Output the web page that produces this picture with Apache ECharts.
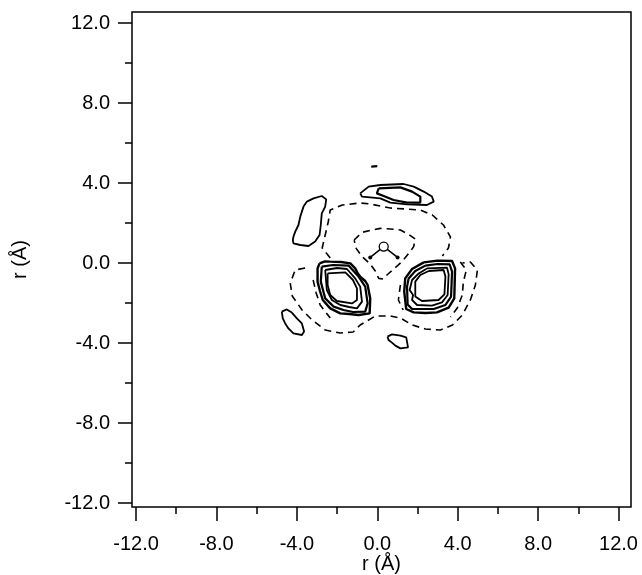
<!DOCTYPE html>
<html>
<head>
<meta charset="utf-8">
<script src="https://cdn.jsdelivr.net/npm/echarts@6/dist/echarts.min.js"></script>
<style>
html,body{margin:0;padding:0;background:#fff;}
#chart{width:642px;height:575px;}
</style>
</head>
<body>
<div id="chart"></div>
<script>
// ---- axis ticks ----
const majorTicks = [-12, -8, -4, 0, 4, 8, 12];
const minorTicks = [-10, -6, -2, 2, 6, 10];
const axisTitle = 'r (Å)';

// ---- solid contours (data units, Å) ----
const ringL1 = [[-2.87,-0.02],[-2.60,0.08],[-2.34,0.07],[-1.80,0.05],[-1.34,-0.02],[-1.10,-0.27],[-0.95,-0.55],[-0.85,-0.68],[-0.60,-0.90],[-0.48,-1.10],[-0.35,-1.77],[-0.38,-2.52],[-0.93,-2.60],[-1.40,-2.55],[-1.84,-2.52],[-2.34,-2.27],[-2.71,-1.85],[-2.85,-1.40],[-2.97,-0.93],[-2.97,-0.27],[-2.87,-0.02]];
const ringL2 = [[-2.76,-0.18],[-2.20,-0.10],[-1.43,-0.13],[-0.93,-0.68],[-0.60,-1.18],[-0.48,-2.02],[-0.60,-2.43],[-1.20,-2.45],[-1.68,-2.35],[-2.17,-2.18],[-2.59,-1.77],[-2.81,-0.93],[-2.76,-0.18]];
const ringL3 = [[-2.59,-0.35],[-2.00,-0.25],[-1.51,-0.30],[-1.10,-0.77],[-0.85,-1.18],[-0.76,-1.93],[-1.01,-2.27],[-1.40,-2.20],[-1.84,-2.10],[-2.26,-1.85],[-2.51,-1.35],[-2.59,-0.35]];
const ringL4 = [[-2.47,-0.52],[-1.59,-0.47],[-1.21,-0.85],[-1.01,-1.27],[-1.01,-1.85],[-1.26,-2.02],[-2.01,-1.90],[-2.34,-1.60],[-2.47,-1.10],[-2.47,-0.52]];
const ringR1 = [[2.31,0.03],[3.00,0.12],[3.72,0.10],[3.87,-0.27],[3.85,-1.00],[3.83,-1.77],[3.55,-2.23],[2.97,-2.47],[2.40,-2.50],[1.81,-2.47],[1.44,-2.30],[1.34,-1.43],[1.39,-0.77],[1.73,-0.30],[2.31,0.03]];
const ringR2 = [[2.39,-0.13],[3.00,-0.05],[3.60,-0.07],[3.72,-0.43],[3.67,-1.68],[3.39,-2.10],[2.81,-2.30],[1.73,-2.30],[1.51,-2.07],[1.48,-1.18],[1.56,-0.77],[1.89,-0.40],[2.39,-0.13]];
const ringR3 = [[2.47,-0.27],[3.47,-0.23],[3.55,-0.57],[3.50,-1.60],[3.22,-1.97],[2.72,-2.13],[1.98,-2.10],[1.73,-1.85],[1.78,-1.60],[1.61,-1.35],[1.73,-0.85],[2.06,-0.52],[2.47,-0.27]];
const ringR4 = [[2.56,-0.40],[3.30,-0.35],[3.39,-0.68],[3.34,-1.57],[3.05,-1.85],[2.22,-1.90],[1.89,-1.68],[1.89,-0.93],[2.14,-0.60],[2.56,-0.40]];
const topOuter = [[-0.85,3.48],[-0.43,3.82],[0.15,3.90],[1.31,3.95],[1.81,3.82],[2.31,3.57],[2.72,3.32],[2.81,3.07],[2.47,2.90],[1.48,2.93],[0.65,3.02],[0.15,3.23],[-0.35,3.28],[-0.76,3.32],[-0.85,3.48]];
const topInner = [[0.07,3.73],[1.15,3.78],[1.73,3.57],[2.14,3.32],[2.14,3.02],[1.48,3.02],[0.81,3.15],[0.32,3.35],[-0.02,3.48],[0.07,3.73]];
const topMark = [[-0.30,4.82],[0.00,4.84]];
const leftBlob = [[-4.17,1.32],[-4.08,1.57],[-3.92,1.90],[-3.83,2.32],[-3.67,2.82],[-3.50,3.07],[-3.17,3.23],[-2.76,3.35],[-2.54,3.18],[-2.59,2.82],[-2.76,2.48],[-2.81,1.90],[-2.87,1.40],[-3.09,1.07],[-3.42,0.85],[-3.83,0.90],[-4.17,0.98],[-4.20,1.15],[-4.17,1.32]];
const lowLeftBlob = [[-4.75,-2.43],[-4.50,-2.32],[-4.25,-2.48],[-4.00,-2.77],[-3.75,-3.02],[-3.64,-3.43],[-3.75,-3.60],[-4.17,-3.52],[-4.42,-3.27],[-4.58,-3.02],[-4.70,-2.77],[-4.75,-2.43]];
const bottomBlob = [[0.51,-3.68],[0.73,-3.57],[1.15,-3.63],[1.44,-3.72],[1.53,-4.22],[1.15,-4.27],[0.90,-4.13],[0.73,-3.98],[0.56,-3.85],[0.51,-3.68]];

// ---- dashed contours ----
const dashInner = [[-1.15,1.15],[-0.76,1.53],[-0.27,1.65],[0.15,1.73],[0.65,1.70],[1.15,1.65],[1.56,1.43],[1.89,1.20],[1.81,0.82],[1.64,0.57],[1.23,0.07],[0.90,-0.23],[0.48,-0.60],[0.32,-0.80],[0.07,-0.77],[-0.10,-0.40],[-0.38,-0.02],[-0.76,0.32],[-1.05,0.73],[-1.15,1.15]];
const dashMiddle = [[-2.34,0.25],[-2.74,0.75],[-2.59,1.40],[-2.44,2.05],[-2.34,2.65],[-1.74,2.90],[-0.85,3.00],[-0.35,2.95],[0.65,2.75],[1.39,2.70],[2.14,2.65],[2.74,2.40],[3.29,1.90],[3.64,1.30],[3.54,0.75],[3.24,0.35]];
const dashOuter = [[-3.59,-0.25],[-4.08,-0.35],[-4.33,-1.00],[-4.23,-1.65],[-3.74,-2.35],[-3.24,-2.85],[-2.59,-3.35],[-1.84,-3.50],[-1.20,-3.45],[-0.85,-3.10],[-0.10,-2.65],[0.65,-2.65],[1.15,-2.75],[1.74,-3.10],[2.39,-3.30],[3.14,-3.35],[3.74,-3.10],[4.23,-2.60],[4.63,-1.85],[4.88,-1.10],[4.98,-0.35],[4.63,0.05],[4.23,0.00]];
const dashHugL = [[-3.19,-0.85],[-3.04,-1.50],[-2.84,-2.10],[-2.34,-2.75]];
const dashHugR = [[4.13,0.05],[4.43,-0.35],[4.28,-0.95],[4.23,-1.60],[3.98,-2.25],[3.64,-2.70]];
const dashHugRin = [[1.15,-1.10],[1.05,-1.85],[1.29,-2.35]];

// ---- molecule ----
const molCenter = [0.32, 0.82];
const molEnds = [[-0.35, 0.28], [1.01, 0.28]];

const solidSets = [
  {d: ringL1, w: 2.4}, {d: ringL2, w: 2.2}, {d: ringL3, w: 1.8}, {d: ringL4, w: 1.8},
  {d: ringR1, w: 2.4}, {d: ringR2, w: 2.2}, {d: ringR3, w: 1.8}, {d: ringR4, w: 1.8},
  {d: topOuter, w: 1.8}, {d: topInner, w: 2.2}, {d: topMark, w: 2.2},
  {d: leftBlob, w: 1.8}, {d: lowLeftBlob, w: 1.8}, {d: bottomBlob, w: 1.8}
];
const dashSets = [dashInner, dashMiddle, dashOuter, dashHugL, dashHugR, dashHugRin];

const series = [];
solidSets.forEach(s => series.push({
  type: 'line', data: s.d, showSymbol: false, symbol: 'none', smooth: false,
  lineStyle: {color: '#000', width: s.w, type: 'solid'}, silent: true, z: 3
}));
dashSets.forEach(d => series.push({
  type: 'line', data: d, showSymbol: false, symbol: 'none', smooth: false,
  lineStyle: {color: '#000', width: 1.6, type: [7, 5]}, silent: true, z: 3
}));
series.push({
  type: 'line', data: [molEnds[0], molCenter, molEnds[1]], symbol: 'circle', symbolSize: 4,
  showSymbol: true, itemStyle: {color: '#000'}, lineStyle: {color: '#000', width: 1.5}, z: 4
});
series.push({
  type: 'scatter', data: [molCenter], symbol: 'circle', symbolSize: 9,
  itemStyle: {color: '#fff', borderColor: '#000', borderWidth: 1.3, opacity: 1}, z: 5
});

const labelFont = {fontFamily: 'Liberation Sans, Arial, sans-serif', fontSize: 20, color: '#000'};
const fmt = v => Number(v).toFixed(1);

const chart = echarts.init(document.getElementById('chart'), null, {renderer: 'canvas'});
chart.setOption({
  animation: false,
  backgroundColor: '#fff',
  grid: {left: 132, right: 11, top: 12, bottom: 68, outerBoundsMode: 'none', containLabel: false,
         show: true, borderColor: '#000', borderWidth: 1.5, backgroundColor: 'transparent'},
  xAxis: [
    {type: 'value', min: -12.2, max: 12.62, position: 'bottom',
     axisLine: {show: false, onZero: false}, splitLine: {show: false},
     axisTick: {show: true, customValues: majorTicks, length: 14, lineStyle: {color: '#000', width: 1.5}},
     axisLabel: Object.assign({show: true, customValues: majorTicks, margin: 27, formatter: fmt}, labelFont),
     name: axisTitle, nameLocation: 'middle', nameGap: 47, nameMoveOverlap: false,
     nameTextStyle: labelFont},
    {type: 'value', min: -12.2, max: 12.62, position: 'bottom',
     axisLine: {show: false, onZero: false}, splitLine: {show: false},
     axisTick: {show: true, customValues: minorTicks, length: 7, lineStyle: {color: '#000', width: 1.5}},
     axisLabel: {show: false}}
  ],
  yAxis: [
    {type: 'value', min: -12.2, max: 12.55, position: 'left',
     axisLine: {show: false, onZero: false}, splitLine: {show: false},
     axisTick: {show: true, customValues: majorTicks, length: 14, lineStyle: {color: '#000', width: 1.5}},
     axisLabel: Object.assign({show: true, customValues: majorTicks, margin: 22, formatter: fmt}, labelFont),
     name: axisTitle, nameLocation: 'middle', nameGap: 102, nameRotate: 90, nameMoveOverlap: false,
     nameTextStyle: labelFont},
    {type: 'value', min: -12.2, max: 12.55, position: 'left',
     axisLine: {show: false, onZero: false}, splitLine: {show: false},
     axisTick: {show: true, customValues: minorTicks, length: 7, lineStyle: {color: '#000', width: 1.5}},
     axisLabel: {show: false}}
  ],
  series: series
});
</script>
</body>
</html>
